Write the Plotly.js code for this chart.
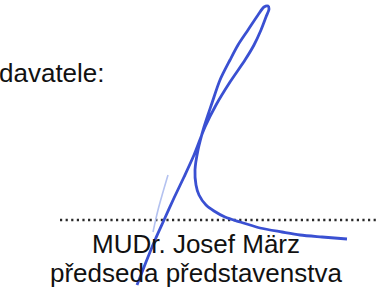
<!DOCTYPE html>
<html>
<head>
<meta charset="utf-8">
<script src="https://cdn.plot.ly/plotly-3.0.1.min.js"></script>
<style>html,body{margin:0;padding:0;background:#fff;}#chart{width:379px;height:289px;}</style>
</head>
<body>
<div id="chart"></div>
<script>
// Text labels
var headerText = "davatele:";
var nameText = "MUDr. Josef März";
var roleText = "předseda představenstva";

// Signature line (x right, y down, in picture units)
var lineX = [60, 379];
var lineY = [220, 220];

// Main signature stroke
var sigX = [137, 146, 155, 164, 174, 184, 194, 205, 216, 230, 245, 254, 261, 266, 269, 268, 264, 258, 248, 238, 230, 220, 212, 204, 198, 195, 196, 199, 206, 214, 225, 240, 260, 282, 300, 322, 347];
var sigY = [285, 262, 240, 220, 198, 177, 155, 127, 105, 82, 60, 45, 30, 17, 9, 6, 7, 15, 30, 45, 60, 80, 103, 127, 150, 170, 185, 195, 205, 211, 217, 222, 228, 232, 235, 237, 239];

// Faint secondary stroke
var faintX = [168, 163, 158, 153];
var faintY = [175, 192, 210, 232];

var traces = [
  {x: lineX, y: lineY, mode: 'lines', line: {color: '#2a2a2a', width: 2.4, dash: '2.2px,3.4px'}, hoverinfo: 'skip'},
  {x: faintX, y: faintY, mode: 'lines', line: {color: '#b4c2f0', width: 1.6, shape: 'spline'}, hoverinfo: 'skip'},
  {x: sigX, y: sigY, mode: 'lines', line: {color: '#3a50d2', width: 2.8, shape: 'spline', smoothing: 0.8}, hoverinfo: 'skip'}
];

var font = {family: '"Liberation Sans", Arial, Helvetica, sans-serif', size: 26, color: '#111111'};

var layout = {
  width: 379, height: 289,
  margin: {l: 0, r: 0, t: 0, b: 0, pad: 0},
  paper_bgcolor: '#ffffff', plot_bgcolor: '#ffffff',
  showlegend: false,
  xaxis: {range: [0, 379], visible: false, fixedrange: true},
  yaxis: {range: [289, 0], visible: false, fixedrange: true},
  annotations: [
    {text: headerText, x: 0, y: 73, xref: 'paper', yref: 'y', xanchor: 'left', yanchor: 'middle', xshift: -3, showarrow: false, font: font},
    {text: nameText, x: 196, y: 244, xref: 'x', yref: 'y', xanchor: 'center', yanchor: 'middle', showarrow: false, font: font},
    {text: roleText, x: 196, y: 273, xref: 'x', yref: 'y', xanchor: 'center', yanchor: 'middle', showarrow: false, font: font}
  ]
};

Plotly.newPlot('chart', traces, layout, {staticPlot: true, displayModeBar: false});
</script>
</body>
</html>
